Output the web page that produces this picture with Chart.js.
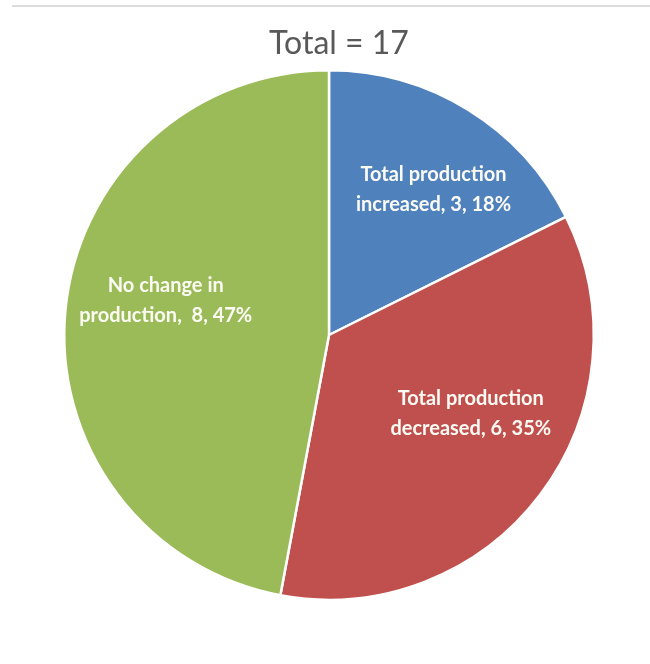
<!DOCTYPE html>
<html>
<head>
<meta charset="utf-8">
<script src="https://cdn.jsdelivr.net/npm/chart.js@4"></script>
<style>
  html, body { margin: 0; padding: 0; background: #fff; }
  #wrap { position: relative; width: 650px; height: 664px; }
  #topline { position: absolute; left: 12px; top: 5px; width: 638px; height: 2px; background: #dcdcdc; }
</style>
</head>
<body>
<div id="wrap">
  <div id="topline"></div>
  <canvas id="pieChart" width="650" height="664"></canvas>
</div>
<script>
const categories = ['Total production increased', 'Total production decreased', 'No change in production'];
const labelLines = [
    ['Total production', 'increased, 3, 18%'],
    ['Total production', 'decreased, 6, 35%'],
    ['No change in', 'production,  8, 47%']
];
const counts = [3, 6, 8];
const sliceColors = ['#4f81bd', '#c0504d', '#9bbb59'];

// where each label sits: fraction of the radius and a turn (degrees) off the slice middle
const labelRadius = [0.677, 0.612, 0.63];
const labelTurn = [3.9, -8.1, 6.5];

const total = counts.reduce((a, b) => a + b, 0);

// heading above the pie, set a little right of the pie centre
const heading = {
    id: 'heading',
    afterDraw(chart) {
        const ctx = chart.ctx;
        ctx.save();
        ctx.font = '32px Lato';
        ctx.fillStyle = '#595959';
        ctx.textAlign = 'center';
        ctx.textBaseline = 'alphabetic';
        ctx.fillText('Total = ' + total, 339, 54);
        ctx.restore();
    }
};

// writes the category label inside each slice
const sliceLabels = {
    id: 'sliceLabels',
    afterDatasetsDraw(chart) {
        const ctx = chart.ctx;
        const meta = chart.getDatasetMeta(0);
        ctx.save();
        ctx.font = 'bold 20px Lato';
        ctx.fillStyle = '#fbfbf4';
        ctx.textAlign = 'center';
        ctx.textBaseline = 'middle';
        meta.data.forEach((arc, i) => {
            const p = arc.getProps(['x', 'y', 'startAngle', 'endAngle', 'outerRadius'], true);
            const mid = (p.startAngle + p.endAngle) / 2 + labelTurn[i] * Math.PI / 180;
            const r = p.outerRadius * labelRadius[i];
            const cx = p.x + Math.cos(mid) * r;
            const cy = p.y + Math.sin(mid) * r;
            const lines = labelLines[i];
            lines.forEach((line, k) => {
                ctx.fillText(line, cx, cy + (k - (lines.length - 1) / 2) * 30);
            });
        });
        ctx.restore();
    }
};

const ctx = document.getElementById('pieChart').getContext('2d');
const pieChart = new Chart(ctx, {
    type: 'pie',
    data: {
        labels: categories,
        datasets: [{
            data: counts,
            backgroundColor: sliceColors,
            borderColor: '#ffffff',
            borderWidth: 2.5
        }]
    },
    options: {
        responsive: false,
        animation: false,
        layout: { padding: { top: 69, bottom: 63, left: 50, right: 42 } },
        plugins: {
            legend: { display: false },
            tooltip: { enabled: false },
            title: { display: false }
        }
    },
    plugins: [sliceLabels, heading]
});
</script>
</body>
</html>
